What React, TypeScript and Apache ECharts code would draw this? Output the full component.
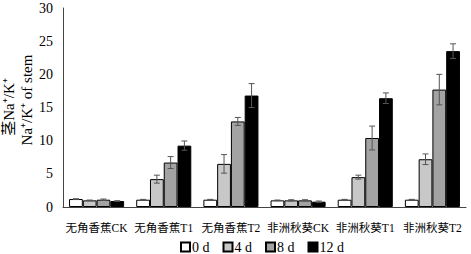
import React, { useEffect, useRef } from "react";
import * as echarts from "echarts";

const categories = ["无角香蕉CK", "无角香蕉T1", "无角香蕉T2", "非洲秋葵CK", "非洲秋葵T1", "非洲秋葵T2"];
const seriesNames = ["0 d", "4 d", "8 d", "12 d"];
const values0 = [1.2, 1.1, 1.1, 1.0, 1.1, 1.1];
const values4 = [1.0, 4.2, 6.5, 1.0, 4.5, 7.2];
const values8 = [1.1, 6.7, 12.9, 1.0, 10.4, 17.7];
const values12 = [0.9, 9.25, 16.8, 0.8, 16.4, 23.5];
const err0 = [0.05, 0.05, 0.05, 0.05, 0.05, 0.05];
const err4 = [0.05, 0.6, 1.4, 0.1, 0.3, 0.8];
const err8 = [0.1, 0.9, 0.6, 0.1, 1.8, 2.3];
const err12 = [0.05, 0.7, 1.8, 0.1, 0.8, 1.1];
const yTicks = [0, 5, 10, 15, 20, 25, 30];

const colors = ["#ffffff", "#c8c8c8", "#a3a3a3", "#000000"];
const FONT = "'Liberation Serif', 'Times New Roman', 'Noto Sans CJK SC', serif";

export default function App() {
  const ref = useRef<HTMLDivElement>(null);
  useEffect(() => {
    if (!ref.current) return;
    const chart = echarts.init(ref.current, null, { renderer: "svg" });
    const allVals = [values0, values4, values8, values12];
    const allErr = [err0, err4, err8, err12];
    const gapRatio = 0.18;
    const n = 4;

    const barSeries = seriesNames.map((name, i) => ({
      name,
      type: "bar",
      data: allVals[i],
      barGap: "0%",
      barCategoryGap: "18%",
      itemStyle: { color: colors[i], borderColor: "#000", borderWidth: 1 },
      z: 2,
    }));

    const errSeries = seriesNames.map((name, i) => ({
      type: "custom",
      name: name + "_err",
      z: 5,
      silent: true,
      data: categories.map((_, k) => [k, allVals[i][k], allErr[i][k]]),
      renderItem: (params: any, api: any) => {
        const k = api.value(0);
        const v = api.value(1);
        const e = api.value(2);
        const band = api.size([1, 0])[0];
        const groupW = band * (1 - gapRatio);
        const bw = groupW / n;
        const base = api.coord([k, v]);
        const x = base[0] - groupW / 2 + bw * (i + 0.5);
        const top = api.coord([k, v + e])[1];
        const bot = api.coord([k, v - e])[1];
        const cap = 3;
        const st = { stroke: "#555", lineWidth: 1 };
        return {
          type: "group",
          children: [
            { type: "line", shape: { x1: x, y1: top, x2: x, y2: bot }, style: st },
            { type: "line", shape: { x1: x - cap, y1: top, x2: x + cap, y2: top }, style: st },
            { type: "line", shape: { x1: x - cap, y1: bot, x2: x + cap, y2: bot }, style: st },
          ],
        };
      },
    }));

    chart.setOption({
      animation: false,
      textStyle: { fontFamily: FONT },
      grid: { left: 63, right: 5, top: 8, bottom: 47, containLabel: false },
      legend: {
        data: seriesNames,
        top: 240,
        left: 180,
        itemWidth: 9,
        itemHeight: 9,
        itemGap: 13,
        icon: "rect",
        padding: 0,
        textStyle: { fontFamily: FONT, fontSize: 14, color: "#000", padding: [0, 0, 0, -3] },
      },
      xAxis: {
        type: "category",
        data: categories,
        axisLine: { lineStyle: { color: "#444", width: 1 } },
        axisTick: { show: false },
        axisLabel: { color: "#000", fontSize: 11.5, fontFamily: FONT, margin: 15, interval: 0 },
      },
      yAxis: {
        type: "value",
        min: 0,
        max: 30,
        interval: 5,
        axisLine: { show: true, lineStyle: { color: "#444", width: 1 } },
        axisTick: { show: false },
        splitLine: { show: false },
        axisLabel: {
          color: "#000",
          fontSize: 14,
          fontFamily: FONT,
          margin: 10,
          formatter: (v: number) => (yTicks.includes(v) ? String(v) : ""),
        },
      },
      graphic: [
        {
          type: "text",
          x: 9,
          y: 107,
          rotation: Math.PI / 2,
          style: { text: "茎Na⁺/K⁺", font: "15px 'Liberation Serif', 'Noto Sans CJK SC', serif", fill: "#000", align: "center", verticalAlign: "middle" },
        },
        {
          type: "text",
          x: 27,
          y: 100,
          rotation: Math.PI / 2,
          style: { text: "Na⁺/K⁺ of stem", font: "15px 'Liberation Serif', serif", fill: "#000", align: "center", verticalAlign: "middle" },
        },
      ],
      series: [...barSeries, ...errSeries],
    });
    return () => chart.dispose();
  }, []);
  return <div ref={ref} style={{ width: 471, height: 254, position: "absolute", left: 0, top: 0, background: "#fff" }} />;
}
